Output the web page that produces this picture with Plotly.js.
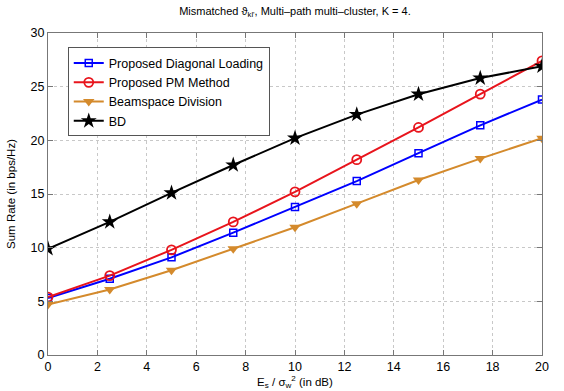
<!DOCTYPE html>
<html><head><meta charset="utf-8">
<script src="https://cdn.plot.ly/plotly-3.0.1.min.js"></script>
<style>body{margin:0;background:#fff}#c{width:564px;height:391px}</style>
</head><body><div id="c"></div>
<script>
const snr = [0, 2.5, 5, 7.5, 10, 12.5, 15, 17.5, 20];
const diagLoading = [5.3, 7.1, 9.1, 11.4, 13.8, 16.2, 18.8, 21.4, 23.8];
const pmMethod = [5.4, 7.4, 9.8, 12.4, 15.2, 18.2, 21.2, 24.3, 27.4];
const beamspace = [4.7, 6.1, 7.9, 9.9, 11.9, 14.1, 16.3, 18.3, 20.2];
const bd = [9.9, 12.4, 15.1, 17.7, 20.2, 22.4, 24.3, 25.8, 26.9];
const xTicks = [0, 2, 4, 6, 8, 10, 12, 14, 16, 18, 20];
const yTicks = [0, 5, 10, 15, 20, 25, 30];

const traces = [
  {x: snr, y: diagLoading, name: 'Proposed Diagonal Loading', mode: 'lines+markers',
   line: {color: '#0000ff', width: 2}, marker: {symbol: 'square-open', size: 7, color: '#0000ff', line: {width: 1.5}}},
  {x: snr, y: pmMethod, name: 'Proposed PM Method', mode: 'lines+markers',
   line: {color: '#e8141c', width: 2}, marker: {symbol: 'circle-open', size: 9, color: '#e8141c', line: {width: 1.8}}},
  {x: snr, y: beamspace, name: 'Beamspace Division', mode: 'lines+markers',
   line: {color: '#d48a2c', width: 2}, marker: {symbol: 'triangle-down', size: 10, color: '#d48a2c'}},
  {x: snr, y: bd, name: 'BD', mode: 'lines+markers',
   line: {color: '#000000', width: 2}, marker: {symbol: 'star', size: 12, color: '#000000'}}
];

const axCommon = {
  showline: true, mirror: 'ticks', linecolor: '#777', linewidth: 1,
  ticks: 'inside', ticklen: 5, tickcolor: '#777',
  showgrid: true, gridcolor: '#c8c8c8', griddash: 'dot', gridwidth: 1,
  zeroline: false, tickfont: {family: 'Liberation Sans, Arial', size: 12.5, color: '#000'}
};

const layout = {
  width: 564, height: 391,
  margin: {l: 48, r: 22, t: 33, b: 36},
  paper_bgcolor: '#fff', plot_bgcolor: '#fff',
  font: {family: 'Liberation Sans, Arial', color: '#000'},
  title: {text: 'Mismatched ϑ<sub>kl\'</sub>, Multi–path multi–cluster, K = 4.',
          font: {size: 11, color: '#000'}, x: 0.523, xanchor: 'center', y: 0.972, yanchor: 'middle'},
  xaxis: Object.assign({}, axCommon, {range: [0, 20], tickvals: xTicks,
    title: {text: 'E<sub>s</sub> / σ<sub>w</sub><sup>2</sup> (in dB)', font: {size: 11.5}, standoff: 4}}),
  yaxis: Object.assign({}, axCommon, {range: [0, 30], tickvals: yTicks,
    title: {text: 'Sum Rate (in bps/Hz)', font: {size: 11.5}, standoff: 12}}),
  showlegend: true,
  legend: {x: 0.04, y: 0.955, xanchor: 'left', yanchor: 'top', bgcolor: '#fff',
    bordercolor: '#555', borderwidth: 1, font: {size: 12.5, color: '#000'},
    tracegroupgap: 0, itemwidth: 30}
};

Plotly.newPlot('c', traces, layout, {displayModeBar: false, staticPlot: true});
</script></body></html>
